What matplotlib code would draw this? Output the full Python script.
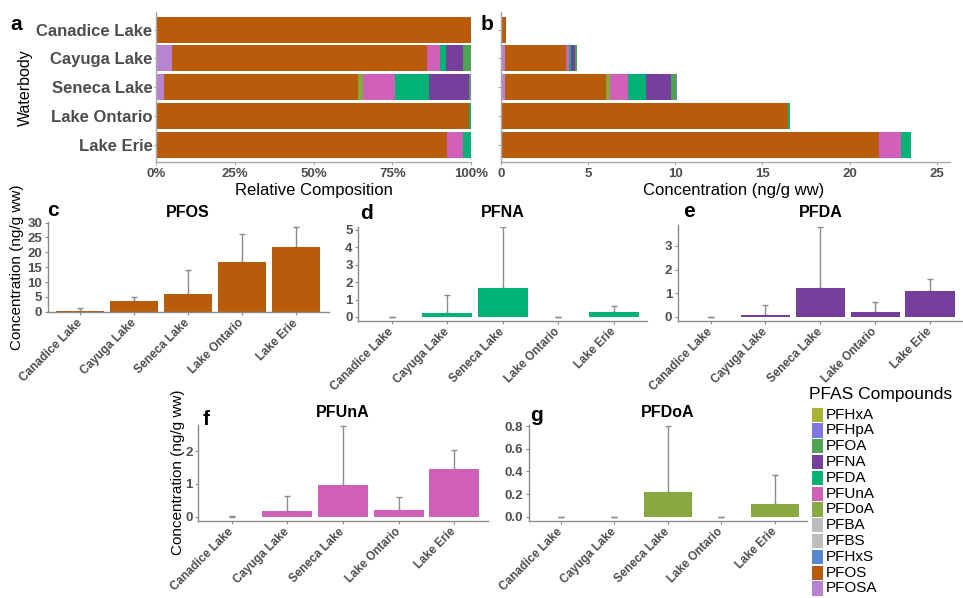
import numpy as np
import matplotlib
matplotlib.use("Agg")
import matplotlib.pyplot as plt
from matplotlib.patches import Rectangle

plt.rcParams['font.family'] = ['Liberation Sans', 'DejaVu Sans']

# ---------------- data ----------------
lakes = ["Canadice Lake", "Cayuga Lake", "Seneca Lake", "Lake Ontario", "Lake Erie"]
compounds = ["PFHxA", "PFHpA", "PFOA", "PFNA", "PFDA", "PFUnA", "PFDoA",
             "PFBA", "PFBS", "PFHxS", "PFOS", "PFOSA"]
compound_colors = ["#AAB232", "#8078E0", "#4CA450", "#74409C", "#00B274", "#D060B8",
                   "#88A840", "#BDBDBD", "#BDBDBD", "#5888D0", "#B85C0C", "#B884D0"]

# relative composition (%) per lake, in compound order
composition = {
    "Canadice Lake": [0, 0, 0, 0, 0, 0, 0, 0, 0, 0, 100.0, 0],
    "Cayuga Lake":   [0, 0, 2.6, 5.3, 1.9, 4.2, 0, 0, 0, 0, 81.0, 5.0],
    "Seneca Lake":   [0, 0.2, 0.3, 12.8, 10.8, 10.1, 1.7, 0, 0, 0, 61.7, 2.4],
    "Lake Ontario":  [0, 0, 0, 0, 0.5, 0, 0, 0, 0, 0, 99.5, 0],
    "Lake Erie":     [0, 0, 0, 0, 2.5, 5.1, 0, 0, 0, 0, 92.4, 0],
}
# concentration (ng/g ww) per lake, in compound order
concentration = {
    "Canadice Lake": [0, 0, 0, 0, 0, 0, 0, 0, 0, 0, 0.30, 0],
    "Cayuga Lake":   [0, 0, 0.09, 0.27, 0.09, 0.18, 0, 0, 0, 0, 3.49, 0.25],
    "Seneca Lake":   [0, 0.10, 0.27, 1.43, 1.05, 1.01, 0.22, 0, 0, 0, 5.80, 0.25],
    "Lake Ontario":  [0, 0, 0, 0, 0.10, 0, 0, 0, 0, 0, 16.5, 0],
    "Lake Erie":     [0, 0, 0, 0, 0.57, 1.26, 0, 0, 0, 0, 21.7, 0],
}

# per-compound means and SD (upper whisker) panels c-g
pfos_mean = [0.3, 3.6, 5.9, 16.8, 21.9]
pfos_sd = [0.8, 1.5, 8.1, 9.4, 6.5]
pfna_mean = [0.0, 0.23, 1.67, 0.0, 0.29]
pfna_sd = [0.0, 1.01, 3.48, 0.0, 0.36]
pfda_mean = [0.0, 0.10, 1.23, 0.23, 1.10]
pfda_sd = [0.0, 0.39, 2.59, 0.42, 0.49]
pfuna_mean = [0.0, 0.18, 0.97, 0.22, 1.44]
pfuna_sd = [0.01, 0.45, 1.79, 0.38, 0.60]
pfdoa_mean = [0.0, 0.0, 0.215, 0.0, 0.112]
pfdoa_sd = [0.0, 0.0, 0.585, 0.0, 0.253]

# ---------------- figure ----------------
W, H = 963, 598
fig = plt.figure(figsize=(W / 100, H / 100), dpi=100)
fig.patch.set_facecolor("white")

TICK_GRAY = "#4D4D4D"
AX_GRAY = "#A8A8A8"


def ax_px(l, t, r, b):
    return fig.add_axes([l / W, 1 - b / H, (r - l) / W, (b - t) / H])


def fx(x):
    return x / W


def fy(y):
    return 1 - y / H


def style_axes(ax, color=AX_GRAY):
    for s in ["top", "right"]:
        ax.spines[s].set_visible(False)
    for s in ["left", "bottom"]:
        ax.spines[s].set_color(color)
        ax.spines[s].set_linewidth(1.0)
    ax.tick_params(colors=color, length=2.5, width=0.8)
    ax.set_facecolor("white")


# ---- panel a: relative composition ----
ypos = np.arange(len(lakes))
order = list(range(len(compounds)))[::-1]  # PFOSA first on the left

axa = ax_px(156, 12.4, 471, 162)
left = np.zeros(len(lakes))
for ci in order:
    vals = np.array([composition[l][ci] for l in lakes])
    axa.barh(ypos, vals, left=left, height=0.9, color=compound_colors[ci], linewidth=0)
    left += vals
axa.set_xlim(0, 100)
axa.set_ylim(len(lakes) - 0.4, -0.6)
axa.set_yticks(ypos)
axa.set_yticklabels(lakes, fontsize=12, fontweight="bold", color=TICK_GRAY)
axa.set_xticks([0, 25, 50, 75, 100])
axa.set_xticklabels(["0%", "25%", "50%", "75%", "100%"], fontsize=9.5,
                    fontweight="bold", color=TICK_GRAY)
style_axes(axa)
axa.tick_params(axis="y", length=1.5, pad=1, labelcolor=TICK_GRAY)
axa.tick_params(axis="x", pad=2, labelcolor=TICK_GRAY)

# ---- panel b: concentration ----
axb = ax_px(500.7, 12.4, 950, 162)
left = np.zeros(len(lakes))
for ci in order:
    vals = np.array([concentration[l][ci] for l in lakes])
    axb.barh(ypos, vals, left=left, height=0.9, color=compound_colors[ci], linewidth=0)
    left += vals
axb.set_xlim(0, 25.76)
axb.set_ylim(len(lakes) - 0.4, -0.6)
axb.set_yticks(ypos)
axb.set_yticklabels([])
axb.set_xticks([0, 5, 10, 15, 20, 25])
axb.set_xticklabels(["0", "5", "10", "15", "20", "25"], fontsize=9.5,
                    fontweight="bold", color=TICK_GRAY)
style_axes(axb)
axb.tick_params(axis="x", pad=2, labelcolor=TICK_GRAY)

fig.text(fx(313.7), fy(190.7), "Relative Composition", fontsize=12,
         ha="center", va="center", color="black")
fig.text(fx(733.8), fy(190.7), "Concentration (ng/g ww)", fontsize=12,
         ha="center", va="center", color="black")
fig.text(fx(25), fy(88), "Waterbody", fontsize=11.5, rotation=90,
         ha="center", va="center", color="black")
fig.text(fx(10), fy(29.5), "a", fontsize=15, fontweight="bold", ha="left", va="baseline")
fig.text(fx(481), fy(29.5), "b", fontsize=15, fontweight="bold", ha="left", va="baseline")

# ---- panels c-g ----
panels = [
    # letter, title, means, sds, color, box(l,t,r,b), ylim, yticks, fmt
    ("c", "PFOS", pfos_mean, pfos_sd, "#B85C0C", (47.7, 221.7, 328.5, 312.3),
     (-0.2, 30.3), [0, 5, 10, 15, 20, 25, 30], "{:.0f}"),
    ("d", "PFNA", pfna_mean, pfna_sd, "#00B274", (358.3, 227.0, 647.0, 321.0),
     (-0.23, 5.15), [0, 1, 2, 3, 4, 5], "{:.0f}"),
    ("e", "PFDA", pfda_mean, pfda_sd, "#74409C", (677.7, 224.7, 963.0, 321.0),
     (-0.17, 3.9), [0, 1, 2, 3], "{:.0f}"),
    ("f", "PFUnA", pfuna_mean, pfuna_sd, "#D060B8", (198.3, 425.4, 487.7, 520.7),
     (-0.12, 2.78), [0, 1, 2], "{:.0f}"),
    ("g", "PFDoA", pfdoa_mean, pfdoa_sd, "#88A840", (528.7, 424.9, 807.0, 520.7),
     (-0.035, 0.81), [0.0, 0.2, 0.4, 0.6, 0.8], "{:.1f}"),
]

letter_pos = {"c": (47.5, 216), "d": (360, 219), "e": (683, 216.7),
              "f": (203, 425), "g": (530, 420.7)}

for letter, title, means, sds, col, box, ylim, yt, fmt in panels:
    ax = ax_px(*box)
    x = np.arange(len(lakes))
    ax.errorbar(x, means, yerr=[np.zeros(len(lakes)), sds], fmt="none",
                ecolor="#8C8C8C", elinewidth=1.0, capsize=2.5, capthick=1.0, zorder=1)
    ax.bar(x, means, width=0.9, color=col, linewidth=0, zorder=2)
    ax.set_xlim(-0.6, len(lakes) - 0.4)
    ax.set_ylim(*ylim)
    ax.set_yticks(yt)
    ax.set_yticklabels([fmt.format(v) for v in yt], fontsize=9.5,
                       fontweight="bold", color=TICK_GRAY)
    ax.set_xticks(x)
    ax.set_xticklabels(lakes, fontsize=8.5, fontweight="bold", color=TICK_GRAY,
                       rotation=45, ha="right", va="center", rotation_mode="anchor")
    style_axes(ax, color="#8C8C8C")
    ax.tick_params(axis="x", pad=4, labelcolor=TICK_GRAY)
    ax.tick_params(axis="y", pad=1.5, labelcolor=TICK_GRAY)
    cx = (box[0] + box[2]) / 2
    ty = 216.7 if letter in "cde" else 417.3
    fig.text(fx(cx), fy(ty), title, fontsize=11.5, fontweight="bold",
             ha="center", va="baseline")
    lx, ly = letter_pos[letter]
    fig.text(fx(lx), fy(ly), letter, fontsize=15, fontweight="bold",
             ha="left", va="baseline")

fig.text(fx(17), fy(267), "Concentration (ng/g ww)", fontsize=11, rotation=90,
         ha="center", va="center")
fig.text(fx(178), fy(472), "Concentration (ng/g ww)", fontsize=11, rotation=90,
         ha="center", va="center")

# ---- legend ----
axl = fig.add_axes([0, 0, 1, 1], facecolor="none")
axl.set_xlim(0, W)
axl.set_ylim(H, 0)
axl.axis("off")
axl.text(809, 395, "PFAS Compounds", fontsize=12.5, ha="left", va="center")
pitch = 15.8
y0 = 406.7
for i, (name, col) in enumerate(zip(compounds, compound_colors)):
    yt = y0 + i * pitch
    axl.add_patch(Rectangle((811.7, yt + 0.8), 11.6, pitch - 1.6, facecolor=col,
                            edgecolor="none"))
    axl.text(825.5, yt + pitch / 2, name, fontsize=11, ha="left", va="center")

fig.savefig("out.png", dpi=100, facecolor="white")
